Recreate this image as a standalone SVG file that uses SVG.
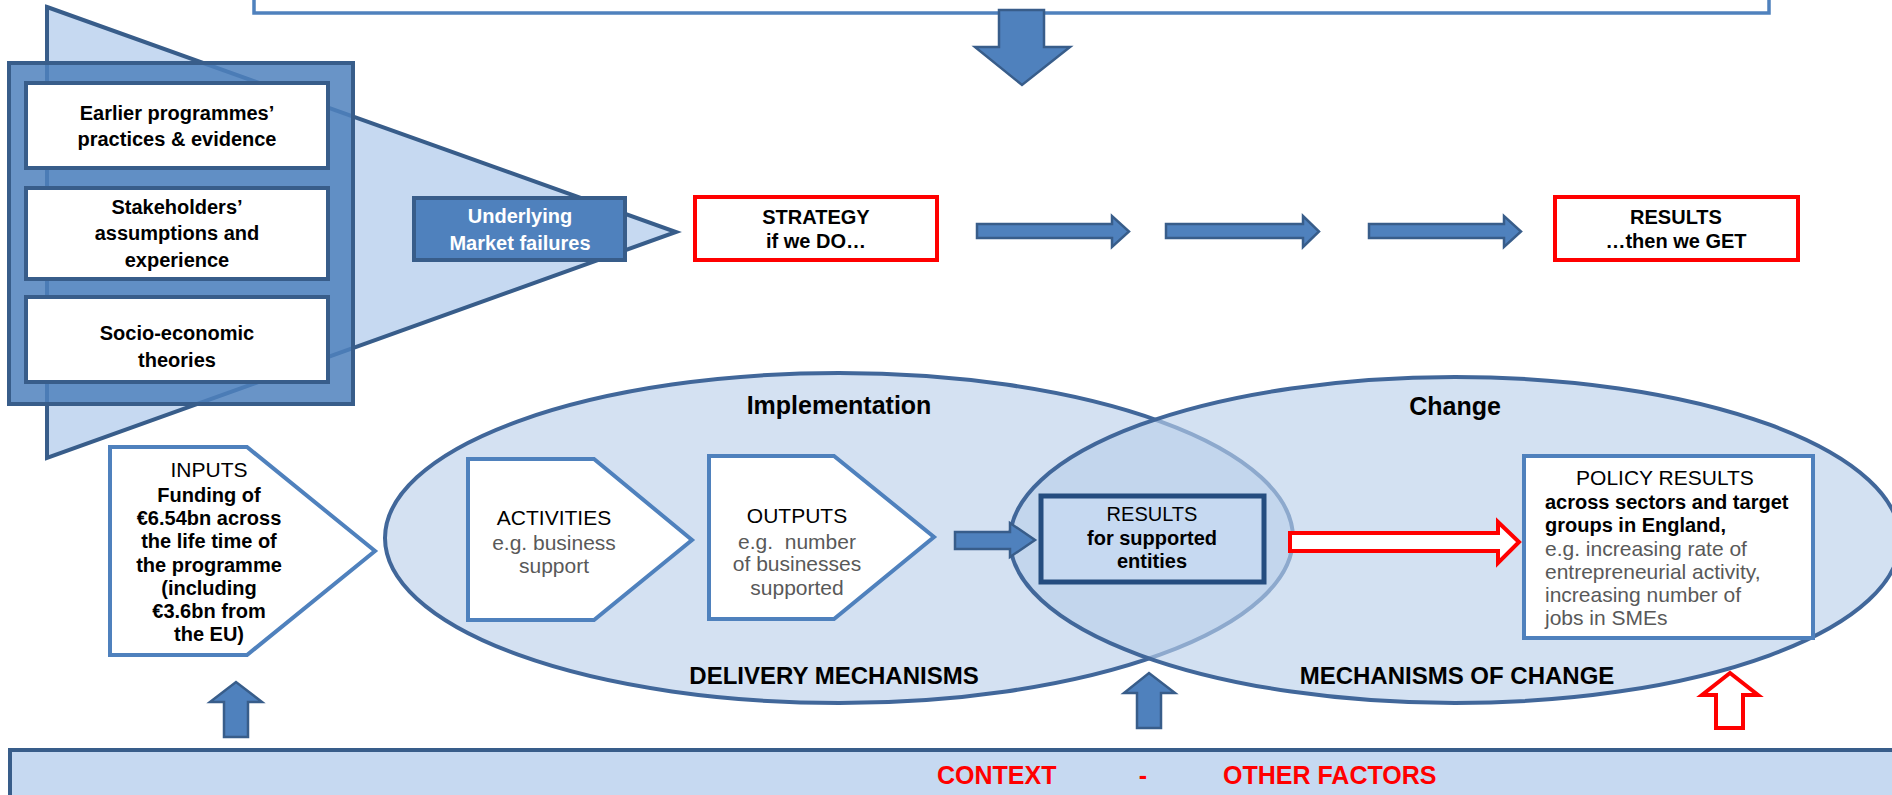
<svg xmlns="http://www.w3.org/2000/svg" width="1892" height="795" viewBox="0 0 1892 795">
<style>
text{font-family:"Liberation Sans",Arial,sans-serif;fill:#000}
.b{font-weight:bold}
.c{text-anchor:middle}
.g{fill:#595959}
.w{fill:#fff}
.r{fill:#ff0000}
.f20{font-size:20px}
.f21{font-size:21px}
.f24{font-size:24px}
.f25{font-size:25px}
.box{fill:#fff;stroke:#385d8a;stroke-width:4}
.lbox{fill:#fff;stroke:#4f81bd;stroke-width:4}
.rbox{fill:#fff;stroke:#ff0000;stroke-width:4}
.barrow{fill:#4f81bd;stroke:#385d8a;stroke-width:2.5;stroke-linejoin:miter}
.rarrow{fill:#fff;stroke:#ff0000;stroke-width:4}
</style>
<rect width="1892" height="795" fill="#fff"/>

<g id="top-box">
<rect x="254" y="-20" width="1515" height="33" fill="#fff" stroke="#4f81bd" stroke-width="3.5"/>
</g>

<g id="evidence-funnel">
<polygon points="47,7 676,232 47,458" fill="#c6d9f1" stroke="#385d8a" stroke-width="4"/>
<rect x="9" y="63" width="344" height="341" fill="#4f81bd" fill-opacity="0.85" stroke="#385d8a" stroke-width="4"/>
</g>

<g id="earlier-programmes">
<rect class="box" x="26" y="83" width="302" height="85"/>
<text class="b c f20" x="177" y="120">Earlier programmes’</text>
<text class="b c f20" x="177" y="146">practices &amp; evidence</text>
</g>

<g id="stakeholders">
<rect class="box" x="26" y="188" width="302" height="91"/>
<text class="b c f20" x="177" y="214">Stakeholders’</text>
<text class="b c f20" x="177" y="240">assumptions and</text>
<text class="b c f20" x="177" y="267">experience</text>
</g>

<g id="theories">
<rect class="box" x="26" y="297" width="302" height="85"/>
<text class="b c f20" x="177" y="340">Socio-economic</text>
<text class="b c f20" x="177" y="367">theories</text>
</g>

<g id="market-failures">
<rect x="414" y="198" width="211" height="62" fill="#4f81bd" stroke="#385d8a" stroke-width="4"/>
<text class="b c f20 w" x="520" y="223">Underlying</text>
<text class="b c f20 w" x="520" y="250">Market failures</text>
</g>

<g id="strategy">
<rect class="rbox" x="695" y="197" width="242" height="63"/>
<text class="b c f20" x="816" y="224">STRATEGY</text>
<text class="b c f20" x="816" y="248">if we DO…</text>
</g>

<g id="results-get">
<rect class="rbox" x="1555" y="197" width="243" height="63"/>
<text class="b c f20" x="1676" y="224">RESULTS</text>
<text class="b c f20" x="1676" y="248">…then we GET</text>
</g>

<g id="implementation-ellipse">
<ellipse cx="839" cy="538" rx="454" ry="165" fill="#d4e1f2" stroke="#41679a" stroke-width="4"/>
</g>
<g id="change-ellipse">
<ellipse cx="1455" cy="540" rx="445" ry="163" fill="rgb(186,207,235)" fill-opacity="0.63" stroke="#41679a" stroke-width="4"/>
</g>
<g id="ellipse-labels">
<text class="b c f25" x="839" y="414">Implementation</text>
<text class="b c f25" x="1455" y="415">Change</text>
<text class="b c f24" x="834" y="684">DELIVERY MECHANISMS</text>
<text class="b c f24" x="1457" y="684">MECHANISMS OF CHANGE</text>
</g>

<g id="inputs">
<polygon class="lbox" points="110,447 247,447 375,551 247,655 110,655"/>
<text class="c f21" x="209" y="477">INPUTS</text>
<text class="b c f20" x="209" y="502">Funding of</text>
<text class="b c f20" x="209" y="525">€6.54bn across</text>
<text class="b c f20" x="209" y="548">the life time of</text>
<text class="b c f20" x="209" y="572">the programme</text>
<text class="b c f20" x="209" y="595">(including</text>
<text class="b c f20" x="209" y="618">€3.6bn from</text>
<text class="b c f20" x="209" y="641">the EU)</text>
</g>

<g id="activities">
<polygon class="lbox" points="468,459 594,459 692,540 594,620 468,620"/>
<text class="c f21" x="554" y="525">ACTIVITIES</text>
<text class="c f21 g" x="554" y="550">e.g. business</text>
<text class="c f21 g" x="554" y="573">support</text>
</g>

<g id="outputs">
<polygon class="lbox" points="709,456 834,456 934,537 834,619 709,619"/>
<text class="c f21" x="797" y="523">OUTPUTS</text>
<text class="c f21 g" x="797" y="549">e.g.&#160; number</text>
<text class="c f21 g" x="797" y="571">of businesses</text>
<text class="c f21 g" x="797" y="595">supported</text>
</g>

<g id="results-entities">
<rect x="1041" y="496" width="223" height="86" fill="#c6d9f1" stroke="#254d7f" stroke-width="5"/>
<text class="c f20" x="1152" y="521">RESULTS</text>
<text class="b c f20" x="1152" y="545">for supported</text>
<text class="b c f20" x="1152" y="568">entities</text>
</g>

<g id="policy-results">
<rect class="lbox" x="1524" y="456" width="289" height="182"/>
<text class="c f21" x="1665" y="485">POLICY RESULTS</text>
<text class="b f20" x="1545" y="509">across sectors and target</text>
<text class="b f20" x="1545" y="532">groups in England,</text>
<text class="f21 g" x="1545" y="556">e.g. increasing rate of</text>
<text class="f21 g" x="1545" y="579">entrepreneurial activity,</text>
<text class="f21 g" x="1545" y="602">increasing number of</text>
<text class="f21 g" x="1545" y="625">jobs in SMEs</text>
</g>

<g id="context">
<rect x="10" y="750" width="1900" height="60" fill="#c6d9f1" stroke="#385d8a" stroke-width="4"/>
<text class="b f25 r" x="937" y="784">CONTEXT</text>
<text class="b c f25 r" x="1143" y="784">-</text>
<text class="b f25 r" x="1223" y="784">OTHER FACTORS</text>
</g>

<g id="connectors">
<polygon class="barrow" points="999,10 1044,10 1044,47 1070,47 1022,85 975,47 999,47"/>
<polygon class="barrow" points="977,224 1112,224 1112,216 1129,231.5 1112,247 1112,238 977,238"/>
<polygon class="barrow" points="1166,224 1303,224 1303,216 1319,231.5 1303,247 1303,238 1166,238"/>
<polygon class="barrow" points="1369,224 1504,224 1504,216 1521,231.5 1504,247 1504,238 1369,238"/>
<polygon class="barrow" points="955,532 1010,532 1010,523 1035,540 1010,557 1010,549 955,549"/>
<polygon class="rarrow" points="1290,533 1498,533 1498,522 1519,542 1498,563 1498,551 1290,551"/>
<polygon class="barrow" points="224,737 224,702 210,702 236,682 262,702 248,702 248,737"/>
<polygon class="barrow" points="1137,728 1137,693 1124,693 1149,673 1175,693 1161,693 1161,728"/>
<polygon class="rarrow" points="1716,728 1716,695 1702,695 1730,673 1758,695 1743,695 1743,728"/>
</g>
</svg>
